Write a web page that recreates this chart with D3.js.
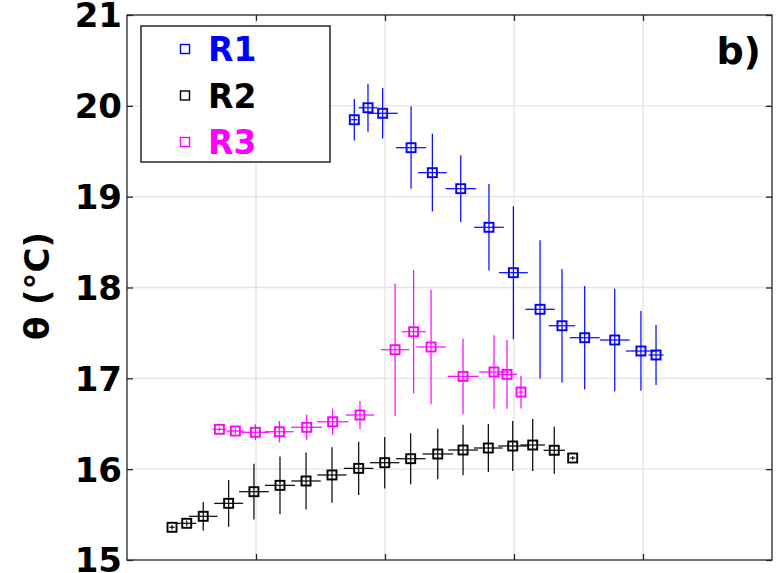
<!DOCTYPE html>
<html>
<head>
<meta charset="utf-8">
<script src="https://cdn.jsdelivr.net/npm/d3@7/dist/d3.min.js"></script>
<style>
  html, body { margin: 0; padding: 0; background: #fff; }
  svg { display: block; font-family: "DejaVu Sans", sans-serif; font-weight: bold; }
</style>
</head>
<body>
<svg id="chart" width="783" height="573"></svg>
<script>
// Series R1
const r1X  = [1.762, 1.868, 1.982, 2.202, 2.367, 2.587, 2.806, 2.995, 3.202, 3.372, 3.548, 3.781, 3.984, 4.101];
const r1Y  = [19.847, 19.979, 19.918, 19.539, 19.264, 19.088, 18.663, 18.163, 17.760, 17.579, 17.447, 17.422, 17.301, 17.257];
const r1Ey = [0.228, 0.263, 0.279, 0.453, 0.428, 0.367, 0.476, 0.732, 0.761, 0.626, 0.569, 0.565, 0.439, 0.330];
const r1Ex = [0.025, 0.072, 0.116, 0.116, 0.111, 0.117, 0.115, 0.112, 0.114, 0.102, 0.116, 0.115, 0.116, 0.058];

// Series R2
const r2X  = [0.349, 0.463, 0.591, 0.788, 0.984, 1.186, 1.388, 1.589, 1.796, 1.998, 2.199, 2.409, 2.605, 2.801, 2.990, 3.145, 3.312, 3.455];
const r2Y  = [15.360, 15.404, 15.481, 15.624, 15.752, 15.822, 15.870, 15.936, 16.009, 16.071, 16.115, 16.167, 16.211, 16.233, 16.255, 16.266, 16.208, 16.123];
const r2Ey = [0.025, 0.03, 0.158, 0.257, 0.307, 0.317, 0.314, 0.305, 0.293, 0.283, 0.281, 0.277, 0.279, 0.264, 0.274, 0.285, 0.259, 0.02];
const r2Ex = [0.02, 0.074, 0.111, 0.112, 0.115, 0.116, 0.114, 0.114, 0.115, 0.114, 0.115, 0.118, 0.115, 0.112, 0.112, 0.095, 0.083, 0.02];

// Series R3
const r3X  = [0.716, 0.840, 0.995, 1.181, 1.393, 1.594, 1.806, 2.078, 2.222, 2.357, 2.605, 2.845, 2.946, 3.054];
const r3Y  = [16.439, 16.420, 16.406, 16.412, 16.461, 16.522, 16.596, 17.315, 17.513, 17.345, 17.022, 17.070, 17.044, 16.849];
const r3Ey = [0.02, 0.03, 0.088, 0.119, 0.138, 0.143, 0.154, 0.730, 0.679, 0.629, 0.417, 0.404, 0.378, 0.180];
const r3Ex = [0.054, 0.07, 0.107, 0.110, 0.120, 0.121, 0.109, 0.110, 0.093, 0.114, 0.119, 0.116, 0.078, 0.02];

const seriesNames  = ["R1", "R2", "R3"];
const seriesColors = ["#0000ff", "#000000", "#ff00ff"];

const yTicks = [15, 16, 17, 18, 19, 20, 21];
const xTicks = [1, 2, 3, 4];
const yLabel = "θ (°C)";
const panelLabel = "b)";

const series = [
  { name: seriesNames[0], color: seriesColors[0], x: r1X, y: r1Y, ey: r1Ey, ex: r1Ex },
  { name: seriesNames[1], color: seriesColors[1], x: r2X, y: r2Y, ey: r2Ey, ex: r2Ex },
  { name: seriesNames[2], color: seriesColors[2], x: r3X, y: r3Y, ey: r3Ey, ex: r3Ex }
];

const svg = d3.select("#chart");
const plotL = 127, plotR = 772, plotT = 15, plotB = 560;

const x = d3.scaleLinear().domain([0, 5]).range([plotL, plotR]);
const y = d3.scaleLinear().domain([15, 21]).range([plotB, plotT]);

const frameColor = "#262626";
const gridColor = "#e3e3e3";

// grid
const grid = svg.append("g");
grid.selectAll("line.gy").data(yTicks.slice(1, -1)).join("line")
  .attr("x1", plotL).attr("x2", plotR)
  .attr("y1", d => y(d)).attr("y2", d => y(d))
  .attr("stroke", gridColor).attr("stroke-width", 1.3);
grid.selectAll("line.gx").data(xTicks).join("line")
  .attr("y1", plotT).attr("y2", plotB)
  .attr("x1", d => x(d)).attr("x2", d => x(d))
  .attr("stroke", gridColor).attr("stroke-width", 1.3);

// axes with inward ticks on all four sides
const tickLen = 6;
svg.append("g").attr("transform", `translate(${plotL},0)`)
  .call(d3.axisRight(y).tickValues(yTicks).tickSize(tickLen).tickFormat(""))
  .call(g => g.select(".domain").remove());
svg.append("g").attr("transform", `translate(${plotR},0)`)
  .call(d3.axisLeft(y).tickValues(yTicks).tickSize(tickLen).tickFormat(""))
  .call(g => g.select(".domain").remove());
svg.append("g").attr("transform", `translate(0,${plotT})`)
  .call(d3.axisBottom(x).tickValues(xTicks).tickSize(tickLen).tickFormat(""))
  .call(g => g.select(".domain").remove());
svg.append("g").attr("transform", `translate(0,${plotB})`)
  .call(d3.axisTop(x).tickValues(xTicks).tickSize(tickLen).tickFormat(""))
  .call(g => g.select(".domain").remove());
svg.selectAll(".tick line").attr("stroke", frameColor).attr("stroke-width", 1.3);

// y tick labels
svg.append("g").selectAll("text").data(yTicks).join("text")
  .attr("x", 122).attr("y", d => y(d)).attr("dy", "0.365em")
  .attr("text-anchor", "end").attr("font-size", 34).attr("fill", "#000")
  .text(d => d);

// y axis title
svg.append("text")
  .attr("transform", `translate(49,286) rotate(-90)`)
  .attr("text-anchor", "middle").attr("font-size", 34).attr("fill", "#000")
  .text(yLabel);

// data: error bars then square markers
const sq = 9;
series.forEach(s => {
  const g = svg.append("g");
  const idx = d3.range(s.x.length);
  g.selectAll("line.v").data(idx).join("line")
    .attr("x1", i => x(s.x[i])).attr("x2", i => x(s.x[i]))
    .attr("y1", i => y(s.y[i] - s.ey[i])).attr("y2", i => y(s.y[i] + s.ey[i]))
    .attr("stroke", s.color).attr("stroke-width", 1.2);
  g.selectAll("line.h").data(idx).join("line")
    .attr("y1", i => y(s.y[i])).attr("y2", i => y(s.y[i]))
    .attr("x1", i => x(s.x[i] - s.ex[i])).attr("x2", i => x(s.x[i] + s.ex[i]))
    .attr("stroke", s.color).attr("stroke-width", 1.2);
  g.selectAll("rect").data(idx).join("rect")
    .attr("x", i => x(s.x[i]) - sq / 2).attr("y", i => y(s.y[i]) - sq / 2)
    .attr("width", sq).attr("height", sq)
    .attr("fill", "none").attr("stroke", s.color).attr("stroke-width", 1.9);
});

// frame
svg.append("rect")
  .attr("x", plotL).attr("y", plotT).attr("width", plotR - plotL).attr("height", plotB - plotT)
  .attr("fill", "none").attr("stroke", frameColor).attr("stroke-width", 1.3);

// legend
const lg = svg.append("g");
lg.append("rect").attr("x", 141).attr("y", 26).attr("width", 189).attr("height", 136)
  .attr("fill", "#fff").attr("stroke", frameColor).attr("stroke-width", 1.5);
const legY = d3.scalePoint().domain(seriesNames).range([49, 142]);
lg.selectAll("rect.m").data(series).join("rect")
  .attr("x", 185 - 4.5).attr("y", d => legY(d.name) - 4.5)
  .attr("width", 9).attr("height", 9)
  .attr("fill", "none").attr("stroke", d => d.color).attr("stroke-width", 1.4);
lg.selectAll("text").data(series).join("text")
  .attr("x", 208).attr("y", d => legY(d.name)).attr("dy", "0.365em")
  .attr("font-size", 33).attr("fill", d => d.color)
  .text(d => d.name);

// panel label
svg.append("text").attr("x", 761).attr("y", 64)
  .attr("text-anchor", "end").attr("font-size", 38).attr("fill", "#000")
  .text(panelLabel);
</script>
</body>
</html>
